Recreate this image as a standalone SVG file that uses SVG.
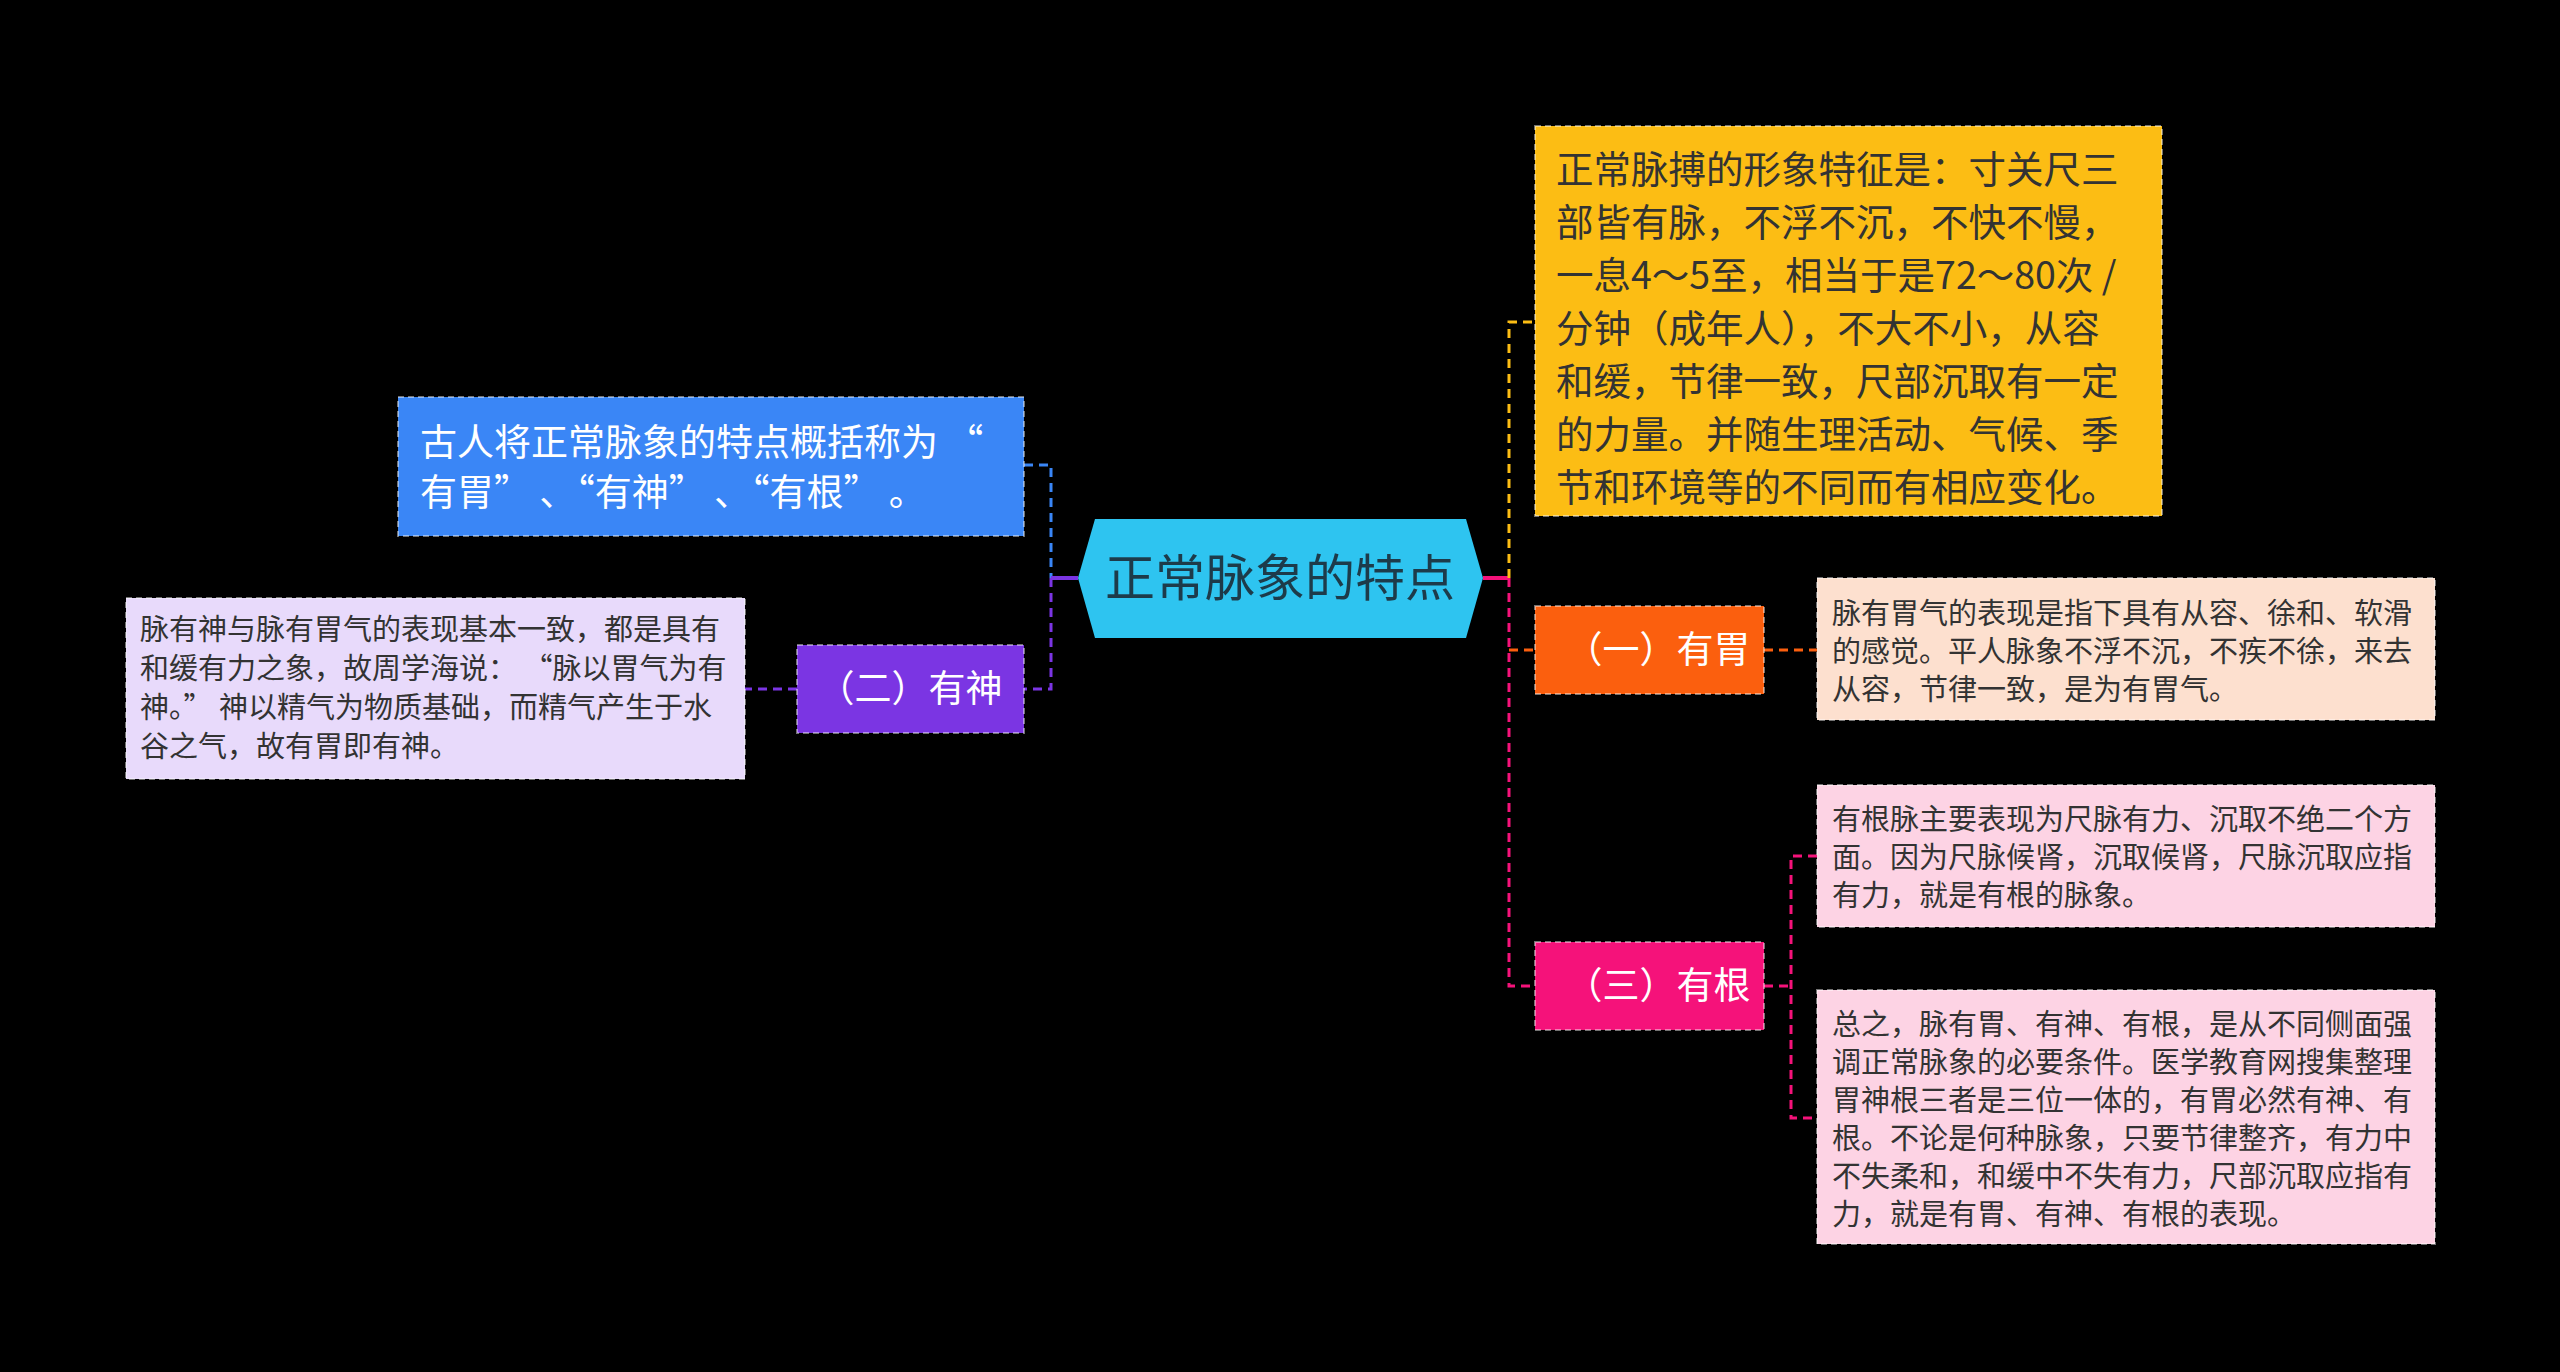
<svg xmlns="http://www.w3.org/2000/svg" width="2560" height="1372" viewBox="0 0 2560 1372">
<style>
text{font-family:"Noto Sans CJK SC","Noto Sans",sans-serif;}
.w{fill:#ffffff;font-size:37px;}
.d{fill:#333333;font-size:37.5px;}
.s{fill:#333333;font-size:29px;}
.bd{stroke:#ffffff;stroke-opacity:0.45;stroke-width:2;stroke-dasharray:6 4;}
.c{fill:none;stroke-width:3;stroke-dasharray:9 6;}
</style>
<rect width="2560" height="1372" fill="#000000"/>
<g id="connectors">
<path class="c" stroke="#3a86f6" d="M1024 465 H1051 V578"/>
<path class="c" stroke="#7b35e3" d="M1051 578 V689 H1024"/>
<path d="M1051 578 H1078" stroke="#7b35e3" stroke-width="4"/>
<path class="c" stroke="#7b35e3" d="M797 689 H745"/>
<path d="M1483 578 H1509" stroke="#f5127a" stroke-width="4"/>
<path class="c" stroke="#fcbd14" d="M1509 578 V322 H1535"/>
<path class="c" stroke="#f5127a" d="M1509 578 V986 H1535"/>
<path class="c" stroke="#fb5f0e" d="M1509 650 H1535"/>
<path class="c" stroke="#fb5f0e" d="M1764 650 H1817"/>
<path class="c" stroke="#f5127a" d="M1764 986 H1791"/>
<path class="c" stroke="#f5127a" d="M1817 856 H1791 V1118 H1817"/>
</g>
<g id="center">
<polygon points="1095,519 1466,519 1483,578 1466,638 1095,638 1078,578" fill="#2ec4f0"/>
<text x="1280" y="596" text-anchor="middle" font-size="50" fill="#1d3b4a">正常脉象的特点</text>
</g>
<g id="yellow">
<rect class="bd" x="1535" y="126" width="627" height="390" fill="#fcbd14"/>
<text class="d" x="1556" y="183">正常脉搏的形象特征是：寸关尺三</text>
<text class="d" x="1556" y="236">部皆有脉，不浮不沉，不快不慢，</text>
<text class="d" x="1556" y="289">一息4～5至，相当于是72～80次 /</text>
<text class="d" x="1556" y="342">分钟（成年人），不大不小，从容</text>
<text class="d" x="1556" y="395">和缓，节律一致，尺部沉取有一定</text>
<text class="d" x="1556" y="448">的力量。并随生理活动、气候、季</text>
<text class="d" x="1556" y="501">节和环境等的不同而有相应变化。</text>
</g>
<g id="blue">
<rect class="bd" x="398" y="397" width="626" height="139" fill="#3a86f6"/>
<text class="w" x="420" y="456">古人将正常脉象的特点概括称为 “</text>
<text class="w" x="420" y="506">有胃” 、“有神” 、“有根” 。</text>
</g>
<g id="youshen">
<rect class="bd" x="797" y="645" width="227" height="88" fill="#7b35e3"/>
<text class="w" x="910" y="702" text-anchor="middle">（二）有神</text>
</g>
<g id="youshen-detail">
<rect class="bd" x="126" y="598" width="619" height="181" fill="#e8dafb"/>
<text class="s" x="140" y="640">脉有神与脉有胃气的表现基本一致，都是具有</text>
<text class="s" x="140" y="679">和缓有力之象，故周学海说： “脉以胃气为有</text>
<text class="s" x="140" y="718">神。” 神以精气为物质基础，而精气产生于水</text>
<text class="s" x="140" y="757">谷之气，故有胃即有神。</text>
</g>
<g id="youwei">
<rect class="bd" x="1535" y="606" width="229" height="88" fill="#fb5f0e"/>
<text class="w" x="1658" y="663" text-anchor="middle">（一）有胃</text>
</g>
<g id="youwei-detail">
<rect class="bd" x="1817" y="578" width="618" height="142" fill="#fde0cf"/>
<text class="s" x="1832" y="624">脉有胃气的表现是指下具有从容、徐和、软滑</text>
<text class="s" x="1832" y="662">的感觉。平人脉象不浮不沉，不疾不徐，来去</text>
<text class="s" x="1832" y="700">从容，节律一致，是为有胃气。</text>
</g>
<g id="yougen">
<rect class="bd" x="1535" y="942" width="229" height="88" fill="#f5127a"/>
<text class="w" x="1658" y="999" text-anchor="middle">（三）有根</text>
</g>
<g id="yougen-detail1">
<rect class="bd" x="1817" y="785" width="618" height="142" fill="#fdd3e4"/>
<text class="s" x="1832" y="830">有根脉主要表现为尺脉有力、沉取不绝二个方</text>
<text class="s" x="1832" y="868">面。因为尺脉候肾，沉取候肾，尺脉沉取应指</text>
<text class="s" x="1832" y="906">有力，就是有根的脉象。</text>
</g>
<g id="yougen-detail2">
<rect class="bd" x="1817" y="990" width="618" height="254" fill="#fdd3e4"/>
<text class="s" x="1832" y="1035">总之，脉有胃、有神、有根，是从不同侧面强</text>
<text class="s" x="1832" y="1073">调正常脉象的必要条件。医学教育网搜集整理</text>
<text class="s" x="1832" y="1111">胃神根三者是三位一体的，有胃必然有神、有</text>
<text class="s" x="1832" y="1149">根。不论是何种脉象，只要节律整齐，有力中</text>
<text class="s" x="1832" y="1187">不失柔和，和缓中不失有力，尺部沉取应指有</text>
<text class="s" x="1832" y="1225">力，就是有胃、有神、有根的表现。</text>
</g>
</svg>
